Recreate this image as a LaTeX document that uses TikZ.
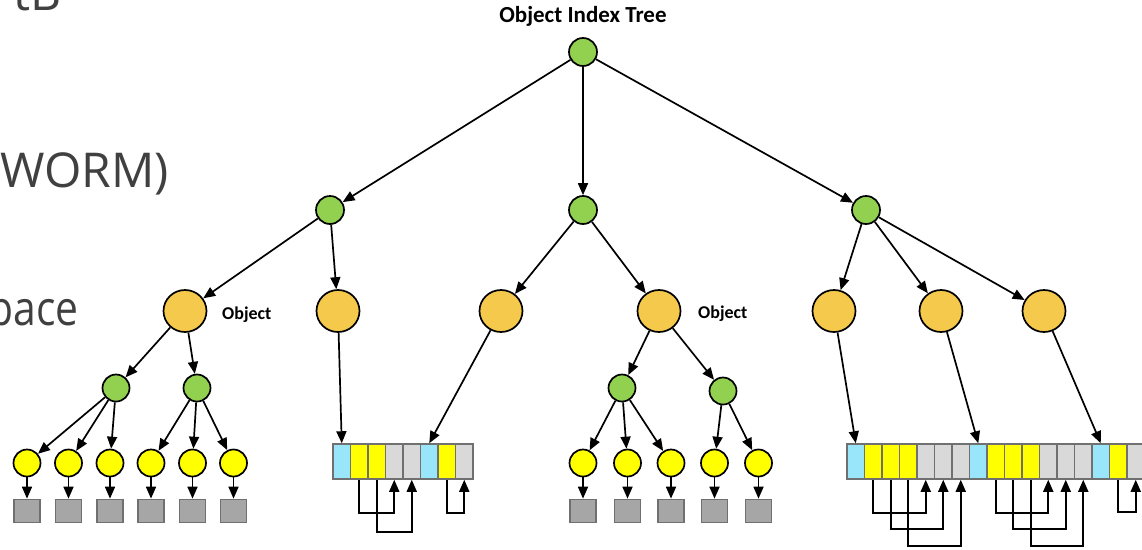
\documentclass[tikz,border=0pt]{standalone}
\usepackage{fontspec}
\setmainfont{Carlito}
\newfontfamily\slidefont{Open Sans}
\usetikzlibrary{shapes.geometric,arrows.meta,calc}
\definecolor{gfill}{HTML}{92D050}
\definecolor{ofill}{HTML}{F5C94C}
\definecolor{yfill}{HTML}{FFFF00}
\definecolor{sqfill}{HTML}{A6A6A6}
\definecolor{sqline}{HTML}{707070}
\definecolor{cfill}{HTML}{99E6FA}
\definecolor{lgfill}{HTML}{D9D9D9}
\definecolor{slidetxt}{HTML}{404040}
\begin{document}
\begin{tikzpicture}[x=1pt,y=-1pt,
  gnode/.style={circle,draw=black,line width=1.7pt,fill=gfill,minimum size=28pt,inner sep=0pt},
  onode/.style={ellipse,draw=black,line width=1.7pt,fill=ofill,minimum width=43pt,minimum height=42pt,inner sep=0pt},
  ynode/.style={circle,draw=black,line width=1.7pt,fill=yfill,minimum size=27pt,inner sep=0pt},
  sqnode/.style={rectangle,draw=sqline,line width=1.7pt,fill=sqfill,minimum width=26pt,minimum height=23pt,inner sep=0pt},
  cellbox/.style={rectangle,draw=sqline,line width=1.5pt,minimum width=17.5pt,minimum height=35pt,inner sep=0pt},
  ccell/.style={cellbox,fill=cfill},
  ycell/.style={cellbox,fill=yfill},
  gcell/.style={cellbox,fill=lgfill},
  conn/.style={line width=1.7pt,-{Triangle[length=12pt,width=10pt]}},
  link/.style={line width=1.7pt,-{Triangle[length=12pt,width=10pt]}},
  lbl/.style={font=\bfseries\fontsize{18}{20}\selectfont,anchor=base west,inner sep=0pt},
  slidetext/.style={font=\slidefont\fontsize{48}{55}\selectfont,text=slidetxt,anchor=base east,inner sep=0pt}
]
\useasboundingbox (0,0) rectangle (1142,549);
\clip (0,0) rectangle (1142,549);

% slide text remnants
\node[slidetext] (s1) at (62,10) {tB};
\node[slidetext] (s2) at (169,187) {WORM)};
\node[slidetext,xscale=0.85] (s3) at (79,325) {pace};

% title
\node[font=\bfseries\fontsize{23}{26}\selectfont,inner sep=0pt,anchor=base] (title) at (583,22) {Object Index Tree};

% tree
\node[gnode] (root) at (583,52) {};
\node[gnode] (g1) at (330,210) {};
\node[gnode] (g2) at (583,210) {};
\node[gnode] (g3) at (866,210) {};

\node[onode] (o1) at (185,311) {};
\node[onode] (o2) at (338,311) {};
\node[onode] (o3) at (501,311) {};
\node[onode] (o4) at (659,311) {};
\node[onode] (o5) at (834,311) {};
\node[onode] (o6) at (941,311) {};
\node[onode] (o7) at (1044,311) {};

\node[lbl] (lab1) at (222,319) {Object};
\node[lbl] (lab2) at (698,318) {Object};

\node[gnode,minimum size=27pt] (h1) at (116,388) {};
\node[gnode,minimum size=27pt] (h2) at (197,388) {};
\node[gnode,minimum size=27pt] (h3) at (622,388) {};
\node[gnode,minimum size=27pt] (h4) at (723,391) {};

\foreach \n/\x in {1/27,2/68.5,3/110,4/151,5/192.5,6/233.5,7/583,8/627.5,9/671,10/714.5,11/758.5}{
  \node[ynode] (y\n) at (\x,463) {};
  \node[sqnode] (q\n) at (\x,511) {};
  \draw[conn] (y\n) -- (q\n);
}

\draw[conn] (root) -- (g1);
\draw[conn] (root) -- (g2);
\draw[conn] (root) -- (g3);
\draw[conn] (g1) -- (o1);
\draw[conn] (g1) -- (o2);
\draw[conn] (g2) -- (o3);
\draw[conn] (g2) -- (o4);
\draw[conn] (g3) -- (o5);
\draw[conn] (g3) -- (o6);
\draw[conn] (g3) -- (o7);
\draw[conn] (o1) -- (h1);
\draw[conn] (o1) -- (h2);
\draw[conn] (o4) -- (h3);
\draw[conn] (o4) -- (h4);
\draw[conn] (h1) -- (y1);
\draw[conn] (h1) -- (y2);
\draw[conn] (h1) -- (y3);
\draw[conn] (h2) -- (y4);
\draw[conn] (h2) -- (y5);
\draw[conn] (h2) -- (y6);
\draw[conn] (h3) -- (y7);
\draw[conn] (h3) -- (y8);
\draw[conn] (h3) -- (y9);
\draw[conn] (h4) -- (y10);
\draw[conn] (h4) -- (y11);

% array 1
\foreach \i/\st in {1/ccell,2/ycell,3/ycell,4/gcell,5/gcell,6/ccell,7/ycell,8/gcell}{
  \node[\st] (a\i) at ({333+17.5*(\i-0.5)},461.5) {};
}
\draw[conn] (o2) -- (a1.north);
\draw[conn] (o3) -- (a6.north);
\draw[link] (a2.south) -- (a2.south |- 0,513) -| (a4.south);
\draw[link] (a3.south) -- (a3.south |- 0,532) -| (a5.south);
\draw[link] (a7.south) -- (a7.south |- 0,513) -| (a8.south);

% array 2
\foreach \i/\st in {1/ccell,2/ycell,3/ycell,4/ycell,5/gcell,6/gcell,7/gcell,8/ccell,9/ycell,10/ycell,11/ycell,12/gcell,13/gcell,14/gcell,15/ccell,16/ycell,17/gcell}{
  \node[\st] (b\i) at ({847+17.5*(\i-0.5)},461.5) {};
}
\draw[conn] (o5) -- (b1.north);
\draw[conn] (o6) -- (b8.north);
\draw[conn] (o7) -- (b15.north);
\draw[link] (b2.south) -- (b2.south |- 0,513) -| (b5.south);
\draw[link] (b3.south) -- (b3.south |- 0,529) -| (b6.south);
\draw[link] (b4.south) -- (b4.south |- 0,546) -| (b7.south);
\draw[link] (b9.south) -- (b9.south |- 0,513) -| (b12.south);
\draw[link] (b10.south) -- (b10.south |- 0,529) -| (b13.south);
\draw[link] (b11.south) -- (b11.south |- 0,546) -| (b14.south);
\draw[link] (b16.south) -- (b16.south |- 0,512) -| (b17.south);
\end{tikzpicture}
\end{document}
